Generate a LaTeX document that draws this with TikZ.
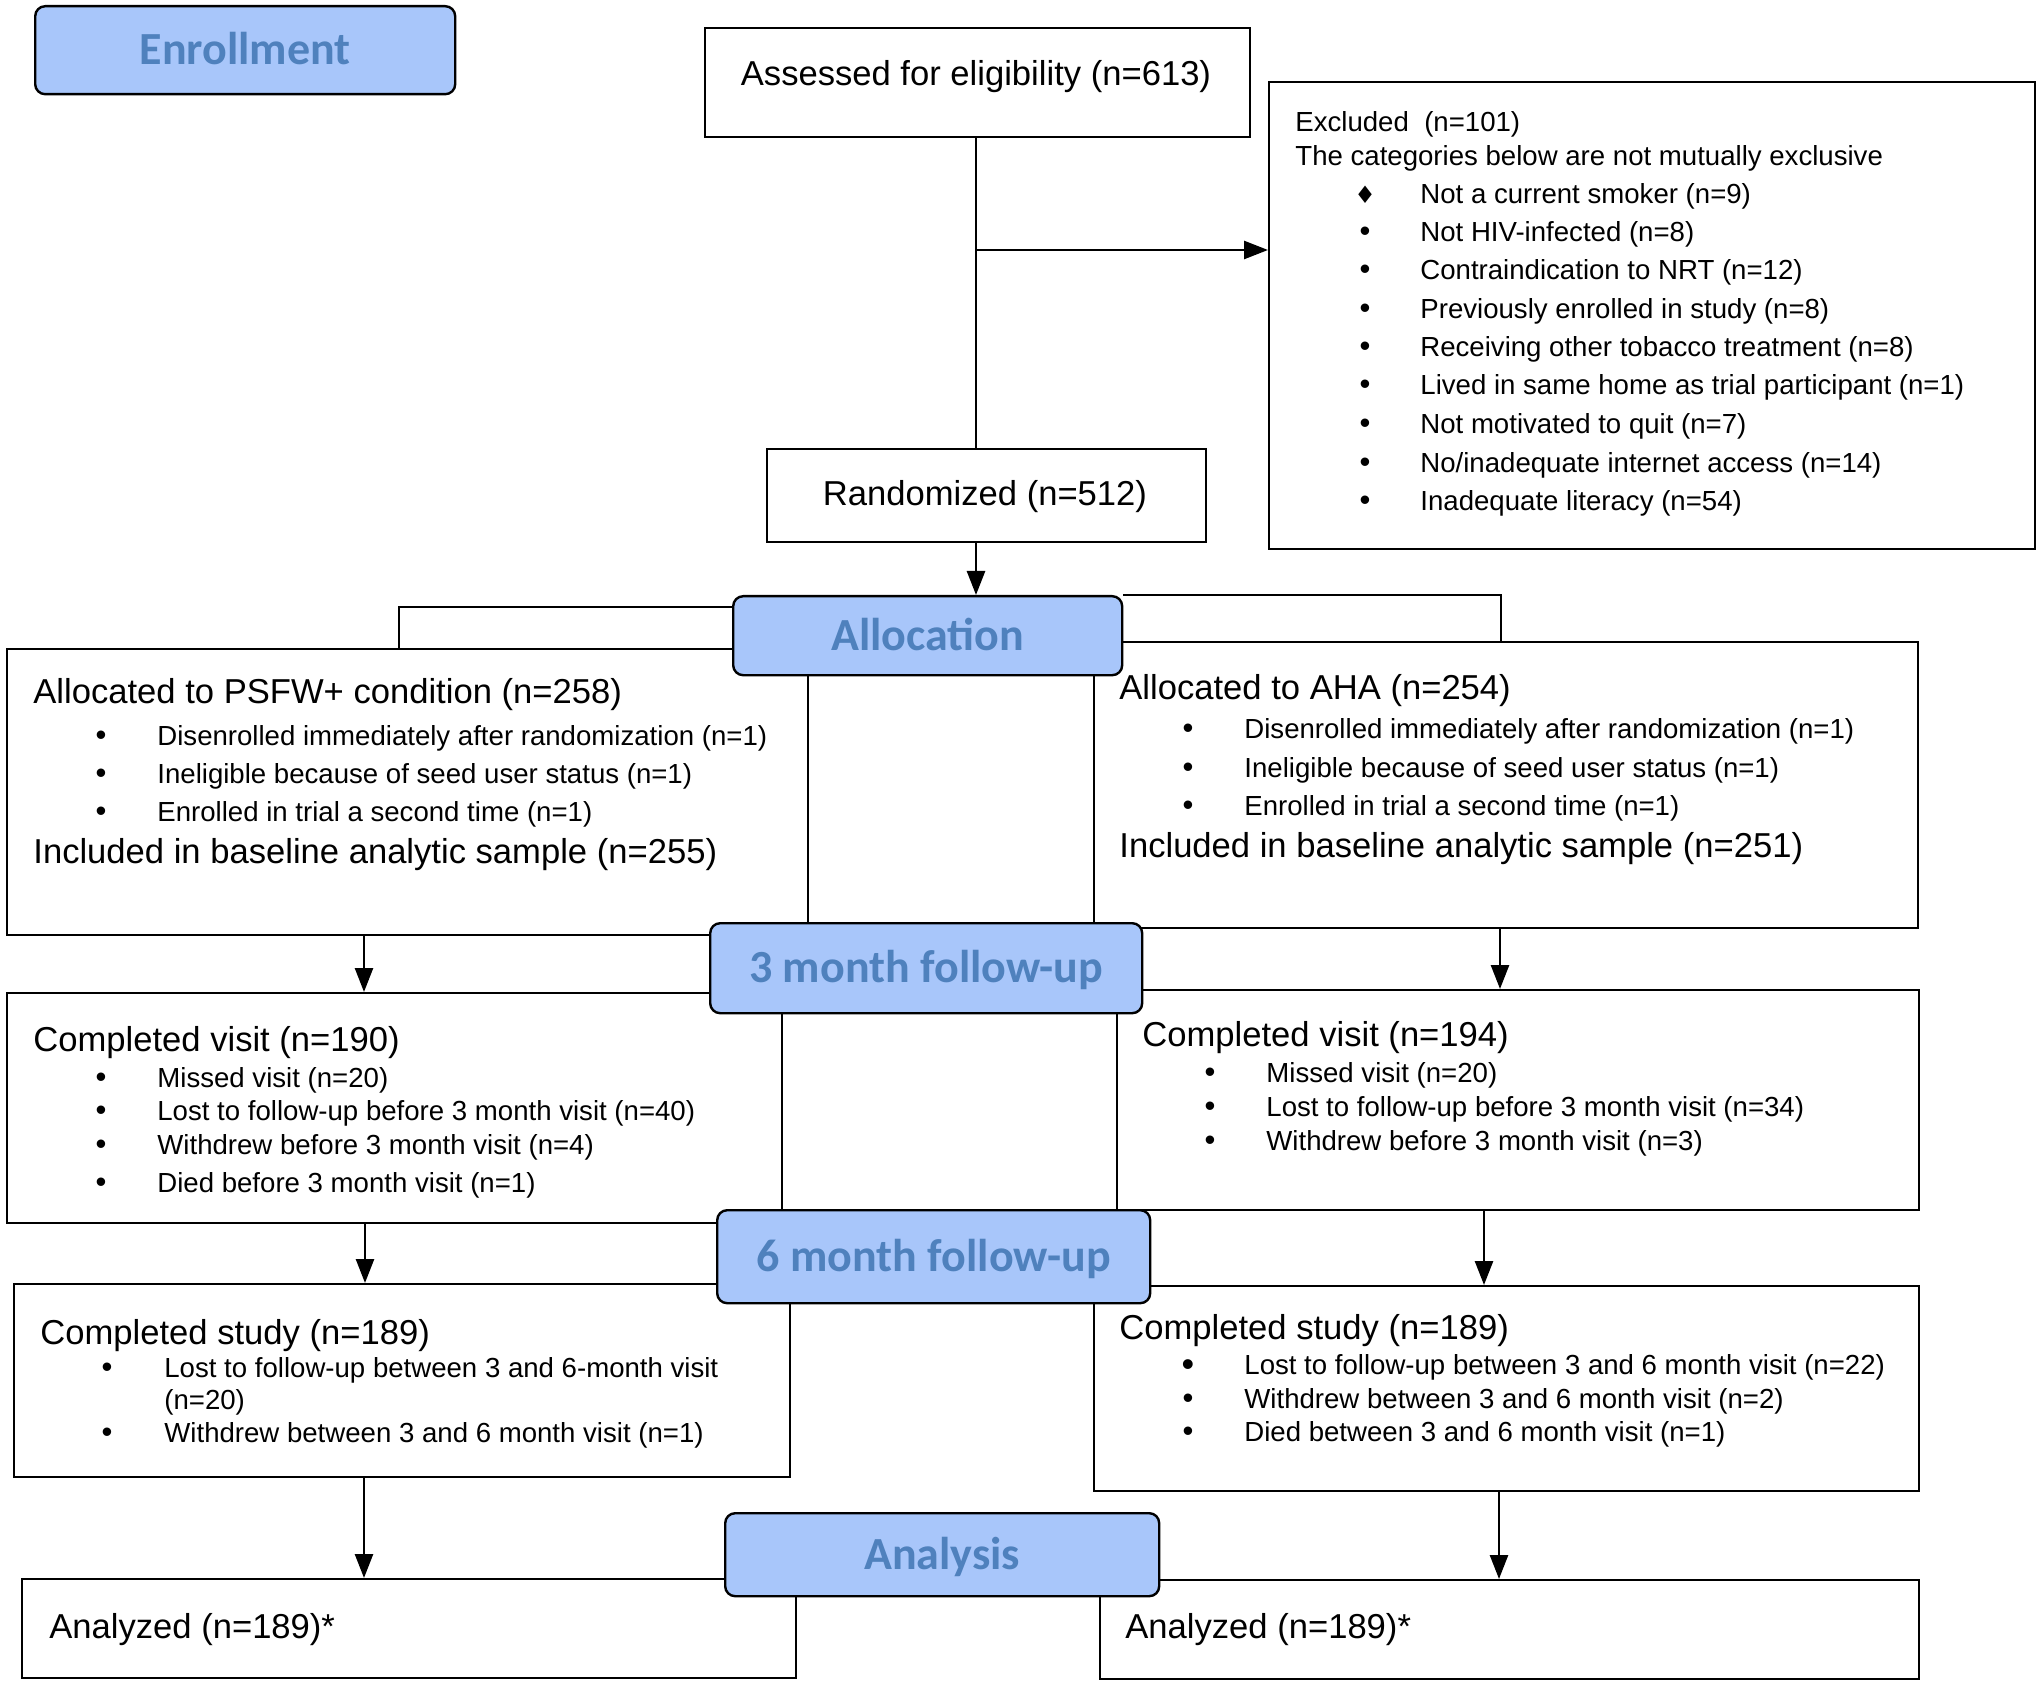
\documentclass[tikz,border=0pt]{standalone}
\usepackage{fontspec}
\setmainfont{Liberation Sans}
\newfontfamily\phasefont{Carlito}
\newfontfamily\symfont{DejaVu Sans}
\usetikzlibrary{arrows.meta}
\pgfdeclarelayer{boxes}
\pgfdeclarelayer{lines}
\pgfsetlayers{boxes,lines,main}
\definecolor{phasefill}{RGB}{168,198,250}
\definecolor{phasetext}{RGB}{79,129,189}
\newcommand\mainsz{\fontsize{17.3pt}{20pt}\selectfont}
\newcommand\smsz{\fontsize{13.8pt}{16pt}\selectfont}
\newcommand\bulsz{\fontsize{15.5pt}{17pt}\selectfont}
\newcommand\phasesz{\phasefont\bfseries\fontsize{23pt}{26pt}\selectfont}
\newcommand\mkbox[7]{\node[#1, minimum width={(#5-#3)*0.5pt}, minimum height={(#6-#4)*0.5pt}] (#2) at (#3,#4) {#7};}
\tikzset{
  box/.style={draw=black, line width=1.2pt, fill=white, inner sep=0pt, anchor=north west},
  phase/.style={box, fill=phasefill, rounded corners=5pt, font=\phasesz, text=phasetext, text height=14.7pt, text depth=0pt},
  txt/.style={anchor=base west, inner sep=0pt, font=\mainsz},
  sm/.style={anchor=base west, inner sep=0pt, font=\smsz},
  bul/.style={anchor=base, inner sep=0pt, font=\bulsz},
  conn/.style={line width=1.3pt},
  arr/.style={conn, -{Triangle[length=12pt,width=9pt]}},
}
\begin{document}
\begin{tikzpicture}[x=0.5pt,y=-0.5pt]
\useasboundingbox (0,0) rectangle (2040,1684);
% white boxes
\begin{pgfonlayer}{boxes}
\mkbox{box}{assess}{704}{27}{1249}{136}{}
\mkbox{box}{excl}{1268}{81}{2034}{548}{}
\mkbox{box}{rand}{766}{448}{1205}{541}{}
\mkbox{box}{psfw}{6}{648}{807}{934}{}
\mkbox{box}{aha}{1093}{641}{1917}{927}{}
\mkbox{box}{m3l}{6}{992}{781}{1222}{}
\mkbox{box}{m3r}{1116}{989}{1918}{1209}{}
\mkbox{box}{m6l}{13}{1283}{789}{1476}{}
\mkbox{box}{m6r}{1093}{1285}{1918}{1490}{}
\mkbox{box}{anl}{21}{1578}{795}{1677}{}
\mkbox{box}{anr}{1099}{1579}{1918}{1678}{}
\end{pgfonlayer}
% phase boxes
\mkbox{phase}{enr}{34}{5}{454}{93}{Enrollment}
\mkbox{phase}{alloc}{732}{595}{1121}{674}{Allocation}
\mkbox{phase}{fu3}{709}{922}{1141}{1012}{3 month follow-up}
\mkbox{phase}{fu6}{716}{1209}{1149}{1302}{6 month follow-up}
\mkbox{phase}{ana}{724}{1512}{1158}{1595}{Analysis}
% connectors
\begin{pgfonlayer}{lines}
\coordinate (br) at (976,250);
\coordinate (lb) at (399,607);
\coordinate (rb) at (1501,595);
\coordinate (c1) at (364,0);
\coordinate (c2) at (1500,0);
\coordinate (c3) at (365,0);
\coordinate (c4) at (1484,0);
\coordinate (c5) at (364,0);
\coordinate (c6) at (1499,0);
\draw[conn] (br |- assess.south) -- (br |- rand.north);
\draw[arr] (br) -- (br -| excl.west);
\draw[arr] (br |- rand.south) -- (br |- alloc.north);
\draw[conn] (lb -| alloc.west) -- (lb) -- (lb |- psfw.north);
\draw[conn] (alloc.north east) -- (rb) -- (rb |- aha.north);
\draw[arr] (c1 |- psfw.south) -- (c1 |- m3l.north);
\draw[arr] (c2 |- aha.south) -- (c2 |- m3r.north);
\draw[arr] (c3 |- m3l.south) -- (c3 |- m6l.north);
\draw[arr] (c4 |- m3r.south) -- (c4 |- m6r.north);
\draw[arr] (c5 |- m6l.south) -- (c5 |- anl.north);
\draw[arr] (c6 |- m6r.south) -- (c6 |- anr.north);
\end{pgfonlayer}
% texts
\node[anchor=base, inner sep=0pt, font=\mainsz] (tassess) at (976,86) {Assessed for eligibility (n=613)};
\node[anchor=base, inner sep=0pt, font=\mainsz] (trand) at (985,506) {Randomized (n=512)};
% excluded
\node[sm] (e0) at (1295,132) {Excluded~ (n=101)};
\node[sm] (e1) at (1295,166) {The categories below are not mutually exclusive};
\node[bul] (eb1) at (1365,204) {\symfont\fontsize{12pt}{13pt}\selectfont ♦};
\node[sm] (et1) at (1420,204) {Not a current smoker (n=9)};
\node[bul] (eb2) at (1365,242) {•};
\node[sm] (et2) at (1420,242) {Not HIV-infected (n=8)};
\node[bul] (eb3) at (1365,280) {•};
\node[sm] (et3) at (1420,280) {Contraindication to NRT (n=12)};
\node[bul] (eb4) at (1365,319) {•};
\node[sm] (et4) at (1420,319) {Previously enrolled in study (n=8)};
\node[bul] (eb5) at (1365,357) {•};
\node[sm] (et5) at (1420,357) {Receiving other tobacco treatment (n=8)};
\node[bul] (eb6) at (1365,395) {•};
\node[sm] (et6) at (1420,395) {Lived in same home as trial participant (n=1)};
\node[bul] (eb7) at (1365,434) {•};
\node[sm] (et7) at (1420,434) {Not motivated to quit (n=7)};
\node[bul] (eb8) at (1365,473) {•};
\node[sm] (et8) at (1420,473) {No/inadequate internet access (n=14)};
\node[bul] (eb9) at (1365,511) {•};
\node[sm] (et9) at (1420,511) {Inadequate literacy (n=54)};
% PSFW
\node[txt] (p0) at (33,704) {Allocated to PSFW+ condition (n=258)};
\node[bul] (pb1) at (101,745) {•};
\node[sm] (p1) at (157,745) {Disenrolled immediately after randomization (n=1)};
\node[bul] (pb2) at (101,783) {•};
\node[sm] (p2) at (157,783) {Ineligible because of seed user status (n=1)};
\node[bul] (pb3) at (101,821) {•};
\node[sm] (p3) at (157,821) {Enrolled in trial a second time (n=1)};
\node[txt] (p4) at (33,863) {Included in baseline analytic sample (n=255)};
% AHA
\node[txt] (a0) at (1119,699) {Allocated to AHA (n=254)};
\node[bul] (ab1) at (1188,738) {•};
\node[sm] (a1) at (1244,738) {Disenrolled immediately after randomization (n=1)};
\node[bul] (ab2) at (1188,777) {•};
\node[sm] (a2) at (1244,777) {Ineligible because of seed user status (n=1)};
\node[bul] (ab3) at (1188,815) {•};
\node[sm] (a3) at (1244,815) {Enrolled in trial a second time (n=1)};
\node[txt] (a4) at (1119,857) {Included in baseline analytic sample (n=251)};
% 3 month left
\node[txt] (l0) at (33,1051) {Completed visit (n=190)};
\node[bul] (lb1) at (101,1087) {•};
\node[sm] (l1) at (157,1087) {Missed visit (n=20)};
\node[bul] (lb2) at (101,1120) {•};
\node[sm] (l2) at (157,1120) {Lost to follow-up before 3 month visit (n=40)};
\node[bul] (lb3) at (101,1154) {•};
\node[sm] (l3) at (157,1154) {Withdrew before 3 month visit (n=4)};
\node[bul] (lb4) at (101,1192) {•};
\node[sm] (l4) at (157,1192) {Died before 3 month visit (n=1)};
% 3 month right
\node[txt] (r0) at (1142,1046) {Completed visit (n=194)};
\node[bul] (rb1) at (1210,1082) {•};
\node[sm] (r1) at (1266,1082) {Missed visit (n=20)};
\node[bul] (rb2) at (1210,1116) {•};
\node[sm] (r2) at (1266,1116) {Lost to follow-up before 3 month visit (n=34)};
\node[bul] (rb3) at (1210,1150) {•};
\node[sm] (r3) at (1266,1150) {Withdrew before 3 month visit (n=3)};
% 6 month left
\node[txt] (s0) at (40,1344) {Completed study (n=189)};
\node[bul] (sb1) at (107,1377) {•};
\node[sm] (s1) at (164,1377) {Lost to follow-up between 3 and 6-month visit};
\node[sm] (s1b) at (164,1409) {(n=20)};
\node[bul] (sb2) at (107,1442) {•};
\node[sm] (s2) at (164,1442) {Withdrew between 3 and 6 month visit (n=1)};
% 6 month right
\node[txt] (t0) at (1119,1339) {Completed study (n=189)};
\node[bul, font=\fontsize{18pt}{19pt}\selectfont] (tb1) at (1188,1376) {•};
\node[sm] (t1) at (1244,1374) {Lost to follow-up between 3 and 6 month visit (n=22)};
\node[bul] (tb2) at (1188,1408) {•};
\node[sm] (t2) at (1244,1408) {Withdrew between 3 and 6 month visit (n=2)};
\node[bul] (tb3) at (1188,1441) {•};
\node[sm] (t3) at (1244,1441) {Died between 3 and 6 month visit (n=1)};
% analyzed
\node[txt] (n0) at (49,1638) {Analyzed (n=189)*};
\node[txt] (n1) at (1125,1638) {Analyzed (n=189)*};
\end{tikzpicture}
\end{document}
